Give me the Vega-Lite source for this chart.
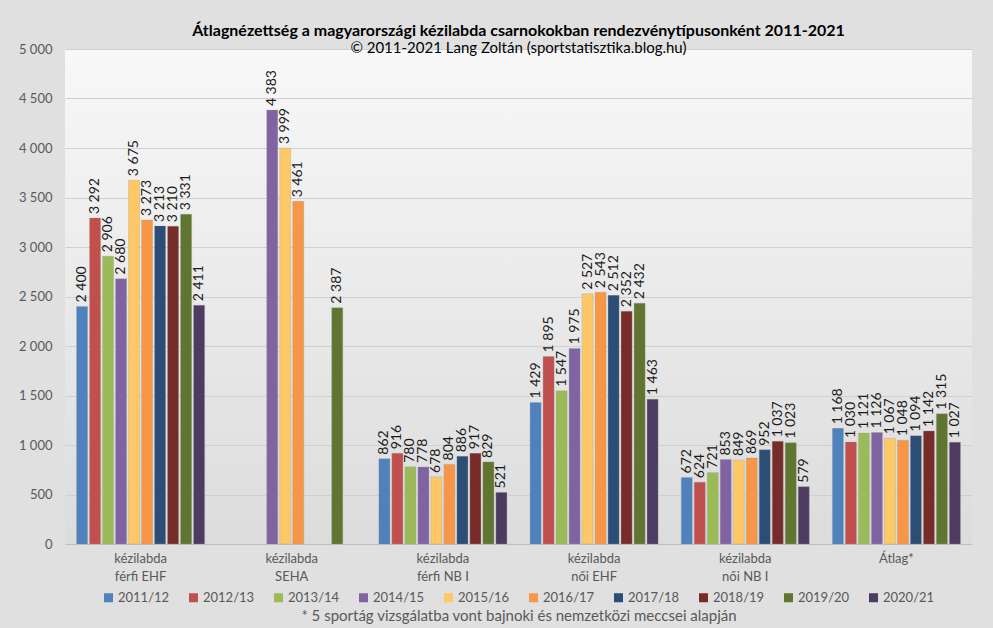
{
  "$schema": "https://vega.github.io/schema/vega-lite/v6.json",
  "width": 907,
  "height": 495,
  "autosize": {"type": "none"},
  "padding": {"left": 65, "top": 49, "right": 21, "bottom": 84},
  "background": "#e0e0e0",
  "config": {
    "locale": {"number": {"decimal": ",", "thousands": " ", "grouping": [3], "currency": ["", ""]}},
    "font": "Lato",
    "view": {"stroke": null, "fill": {"gradient": "linear", "x1": 0, "y1": 0, "x2": 0, "y2": 1, "stops": [{"offset": 0, "color": "#f8f8f8"}, {"offset": 1, "color": "#dcdcdc"}]}}
  },
  "title": {
    "text": "Átlagnézettség a magyarországi kézilabda csarnokokban rendezvénytípusonként 2011-2021",
    "subtitle": "© 2011-2021 Lang Zoltán (sportstatisztika.blog.hu)",
    "fontSize": 16,
    "fontWeight": "bold",
    "color": "#000000",
    "subtitleFontSize": 15,
    "subtitleColor": "#000000",
    "anchor": "middle",
    "offset": -13,
    "subtitlePadding": 2
  },
  "data": {
    "values": [
      {"c": "kézilabda|férfi EHF", "s": "2011/12", "v": 2400},
      {"c": "kézilabda|férfi EHF", "s": "2012/13", "v": 3292},
      {"c": "kézilabda|férfi EHF", "s": "2013/14", "v": 2906},
      {"c": "kézilabda|férfi EHF", "s": "2014/15", "v": 2680},
      {"c": "kézilabda|férfi EHF", "s": "2015/16", "v": 3675},
      {"c": "kézilabda|férfi EHF", "s": "2016/17", "v": 3273},
      {"c": "kézilabda|férfi EHF", "s": "2017/18", "v": 3213},
      {"c": "kézilabda|férfi EHF", "s": "2018/19", "v": 3210},
      {"c": "kézilabda|férfi EHF", "s": "2019/20", "v": 3331},
      {"c": "kézilabda|férfi EHF", "s": "2020/21", "v": 2411},
      {"c": "kézilabda|SEHA", "s": "2014/15", "v": 4383},
      {"c": "kézilabda|SEHA", "s": "2015/16", "v": 3999},
      {"c": "kézilabda|SEHA", "s": "2016/17", "v": 3461},
      {"c": "kézilabda|SEHA", "s": "2019/20", "v": 2387},
      {"c": "kézilabda|férfi NB I", "s": "2011/12", "v": 862},
      {"c": "kézilabda|férfi NB I", "s": "2012/13", "v": 916},
      {"c": "kézilabda|férfi NB I", "s": "2013/14", "v": 780},
      {"c": "kézilabda|férfi NB I", "s": "2014/15", "v": 778},
      {"c": "kézilabda|férfi NB I", "s": "2015/16", "v": 678},
      {"c": "kézilabda|férfi NB I", "s": "2016/17", "v": 804},
      {"c": "kézilabda|férfi NB I", "s": "2017/18", "v": 886},
      {"c": "kézilabda|férfi NB I", "s": "2018/19", "v": 917},
      {"c": "kézilabda|férfi NB I", "s": "2019/20", "v": 829},
      {"c": "kézilabda|férfi NB I", "s": "2020/21", "v": 521},
      {"c": "kézilabda|női EHF", "s": "2011/12", "v": 1429},
      {"c": "kézilabda|női EHF", "s": "2012/13", "v": 1895},
      {"c": "kézilabda|női EHF", "s": "2013/14", "v": 1547},
      {"c": "kézilabda|női EHF", "s": "2014/15", "v": 1975},
      {"c": "kézilabda|női EHF", "s": "2015/16", "v": 2527},
      {"c": "kézilabda|női EHF", "s": "2016/17", "v": 2543},
      {"c": "kézilabda|női EHF", "s": "2017/18", "v": 2512},
      {"c": "kézilabda|női EHF", "s": "2018/19", "v": 2352},
      {"c": "kézilabda|női EHF", "s": "2019/20", "v": 2432},
      {"c": "kézilabda|női EHF", "s": "2020/21", "v": 1463},
      {"c": "kézilabda|női NB I", "s": "2011/12", "v": 672},
      {"c": "kézilabda|női NB I", "s": "2012/13", "v": 624},
      {"c": "kézilabda|női NB I", "s": "2013/14", "v": 721},
      {"c": "kézilabda|női NB I", "s": "2014/15", "v": 853},
      {"c": "kézilabda|női NB I", "s": "2015/16", "v": 849},
      {"c": "kézilabda|női NB I", "s": "2016/17", "v": 869},
      {"c": "kézilabda|női NB I", "s": "2017/18", "v": 952},
      {"c": "kézilabda|női NB I", "s": "2018/19", "v": 1037},
      {"c": "kézilabda|női NB I", "s": "2019/20", "v": 1023},
      {"c": "kézilabda|női NB I", "s": "2020/21", "v": 579},
      {"c": "Átlag*", "s": "2011/12", "v": 1168},
      {"c": "Átlag*", "s": "2012/13", "v": 1030},
      {"c": "Átlag*", "s": "2013/14", "v": 1121},
      {"c": "Átlag*", "s": "2014/15", "v": 1126},
      {"c": "Átlag*", "s": "2015/16", "v": 1067},
      {"c": "Átlag*", "s": "2016/17", "v": 1048},
      {"c": "Átlag*", "s": "2017/18", "v": 1094},
      {"c": "Átlag*", "s": "2018/19", "v": 1142},
      {"c": "Átlag*", "s": "2019/20", "v": 1315},
      {"c": "Átlag*", "s": "2020/21", "v": 1027}
    ]
  },
  "encoding": {
    "x": {
      "field": "c",
      "type": "nominal",
      "sort": null,
      "scale": {"paddingInner": 0.14, "paddingOuter": 0.07},
      "axis": {
        "title": "* 5 sportág vizsgálatba vont bajnoki és nemzetközi meccsei alapján",
        "titleFontSize": 15,
        "titleFontWeight": "normal",
        "titleColor": "#595959",
        "titlePadding": 25,
        "labelAngle": 0,
        "labelExpr": "split(datum.label, '|')",
        "labelFontSize": 13,
        "labelColor": "#595959",
        "labelPadding": 8,
        "labelLineHeight": 18,
        "labelBaseline": "top",
        "ticks": false,
        "domainColor": "#bfbfbf"
      }
    },
    "xOffset": {
      "field": "s",
      "type": "nominal",
      "sort": ["2011/12", "2012/13", "2013/14", "2014/15", "2015/16", "2016/17", "2017/18", "2018/19", "2019/20", "2020/21"],
      "scale": {"paddingInner": 0.15, "paddingOuter": 0.075}
    },
    "y": {
      "field": "v",
      "type": "quantitative",
      "scale": {"domain": [0, 5000]},
      "axis": {
        "title": null,
        "values": [0, 500, 1000, 1500, 2000, 2500, 3000, 3500, 4000, 4500, 5000],
        "format": ",d",
        "labelFontSize": 13,
        "labelColor": "#595959",
        "labelPadding": 13,
        "ticks": false,
        "domain": false,
        "gridColor": "#d0d0d0"
      }
    }
  },
  "layer": [
    {
      "mark": {"type": "bar", "stroke": "#9a9a9a", "strokeWidth": 0.5, "strokeOpacity": 0.6},
      "encoding": {
        "color": {
          "field": "s",
          "type": "nominal",
          "scale": {
            "domain": ["2011/12", "2012/13", "2013/14", "2014/15", "2015/16", "2016/17", "2017/18", "2018/19", "2019/20", "2020/21"],
            "range": ["#4f81bd", "#c0504d", "#9bbb59", "#8064a2", "#fdc865", "#f79646", "#2c4d75", "#772c2a", "#5f7530", "#4d3b62"]
          },
          "legend": {
            "orient": "none",
            "legendX": 37,
            "legendY": 542,
            "direction": "horizontal",
            "columns": 10,
            "title": null,
            "symbolType": "square",
            "symbolSize": 81,
            "symbolStrokeWidth": 0,
            "labelFontSize": 13,
            "labelColor": "#595959",
            "labelOffset": 3,
            "columnPadding": 17
          }
        }
      }
    },
    {
      "mark": {"type": "text", "angle": 270, "align": "left", "baseline": "middle", "dx": 4, "fontSize": 14, "color": "#1a1a1a"},
      "encoding": {
        "text": {"field": "v", "type": "quantitative", "format": ",d"}
      }
    }
  ]
}
